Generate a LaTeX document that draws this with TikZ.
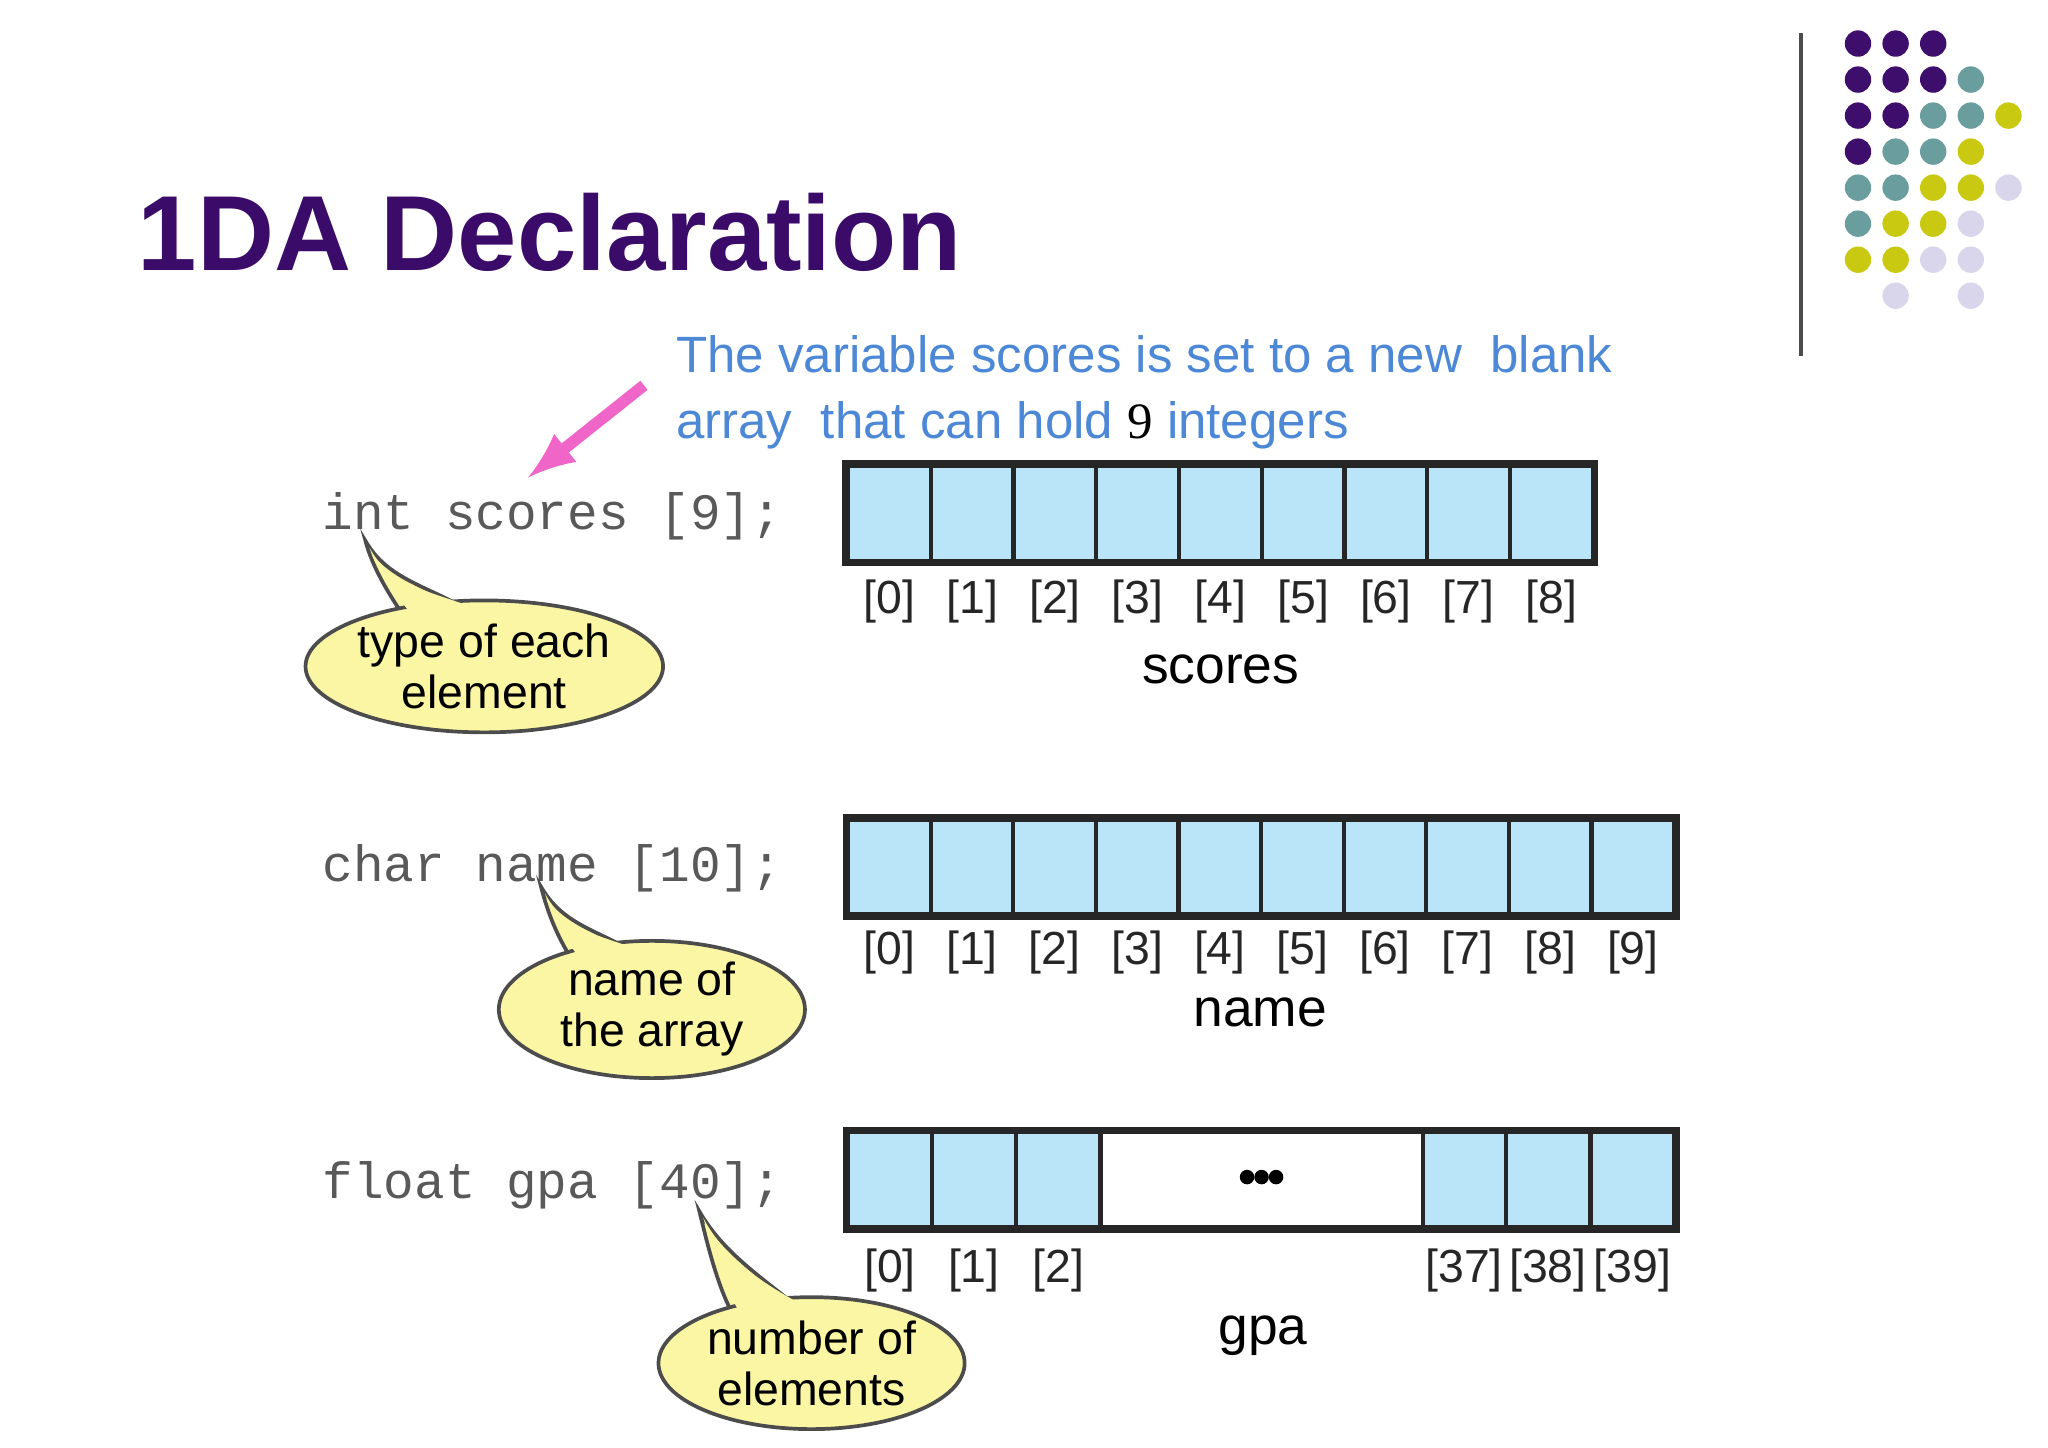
\documentclass[tikz,border=0pt]{standalone}
\usepackage{fontspec}
\setmainfont{Liberation Sans}
\newfontfamily\codefont{Liberation Mono}
\newfontfamily\numfont{Liberation Serif}
\usetikzlibrary{shapes.geometric,positioning}
\definecolor{titlepurple}{HTML}{3A0B68}
\definecolor{noteblue}{HTML}{4C88D6}
\definecolor{cellblue}{HTML}{BAE4F8}
\definecolor{calloutyellow}{HTML}{FBF6A4}
\definecolor{arrowpink}{HTML}{F065C8}
\definecolor{dotpurple}{HTML}{3D0E6C}
\definecolor{dotteal}{HTML}{6A9E9E}
\definecolor{dotyellow}{HTML}{C9C912}
\definecolor{dotlilac}{HTML}{D9D6EC}
\tikzset{cell/.style={draw=black!85, fill=cellblue, line width=0.9pt, inner sep=0,
    minimum height=7.2mm}}
\tikzset{idx/.style={font=\fontsize{10}{12}\selectfont, text=black!85}}
\tikzset{code/.style={font=\codefont\fontsize{11}{13}\selectfont, text=black!65, anchor=west}}
\tikzset{callout/.style={shape=ellipse, draw=black!70, fill=calloutyellow, line width=0.8pt,
    align=center, inner sep=0, font=\fontsize{10}{11}\selectfont}}
\tikzset{dot/.style={circle, inner sep=0, minimum size=2mm}}
\begin{document}
\begin{tikzpicture}[x=0.01cm, y=-0.01cm]
  \useasboundingbox (0,0) rectangle (1552,1097);

  %%%% Title
  \node[anchor=base west, text=titlepurple, font=\bfseries\fontsize{23}{28}\selectfont] (title) at (92,205) {1DA Declaration};

  %%%% Decoration top right
  \draw[black!70, line width=0.8pt] (1365,25) -- (1365,270);
  \foreach \c/\x/\y in {dotpurple/0/0,dotpurple/1/0,dotpurple/2/0,
      dotpurple/0/1,dotpurple/1/1,dotpurple/2/1,dotteal/3/1,
      dotpurple/0/2,dotpurple/1/2,dotteal/2/2,dotteal/3/2,dotyellow/4/2,
      dotpurple/0/3,dotteal/1/3,dotteal/2/3,dotyellow/3/3,
      dotteal/0/4,dotteal/1/4,dotyellow/2/4,dotyellow/3/4,dotlilac/4/4,
      dotteal/0/5,dotyellow/1/5,dotyellow/2/5,dotlilac/3/5,
      dotyellow/0/6,dotyellow/1/6,dotlilac/2/6,dotlilac/3/6,
      dotlilac/1/7,dotlilac/3/7}
    \node[dot, fill=\c] (dot-\x-\y) at (1408+28.5*\x, 33+27.3*\y) {};

  %%%% Note
  \node[anchor=north west, align=left, text=noteblue, font=\fontsize{11}{14.2}\selectfont] (note) at (500,242)
    {The variable scores is set to a new\ \ blank\\array\ \ that can hold {\numfont\color{black}9} integers};
  \coordinate (tip) at (400,362);
  \draw[->, >=latex, arrowpink, line width=2.5pt] (488,292) -- (tip);

  %%%% Declarations
  \node[code] (decl1) at (232,391) {int scores [9];};
  \node[code] (decl2) at (232,658) {char name [10];};
  \node[code] (decl3) at (232,898) {float gpa [40];};

  %%%% scores
  \foreach \i in {0,...,8} {
    \node[cell, minimum width=6.27mm] (s\i) at (674+62.7*\i,389) {};
    \node[idx] (si\i) at (674+62.7*\i,456) {[\i]};
  }
  \draw[line width=1.5pt, black!85] (s0.north west) rectangle (s8.south east);
  \node[font=\fontsize{11.5}{14}\selectfont] (sname) at (925,507) {scores};

  %%%% name
  \foreach \i in {0,...,9} {
    \node[cell, minimum width=6.26mm] (n\i) at (674+62.6*\i,657) {};
    \node[idx] (ni\i) at (674+62.6*\i,722) {[\i]};
  }
  \draw[line width=1.5pt, black!85] (n0.north west) rectangle (n9.south east);
  \node[font=\fontsize{11.5}{14}\selectfont] (nname) at (955,767) {name};

  %%%% gpa
  \foreach \i/\x in {0/674.5,1/738,2/802,37/1109.5,38/1173,39/1237} {
    \node[cell, minimum width=6.35mm] (g\i) at (\x,894) {};
    \node[idx] (gi\i) at (\x,963) {[\i]};
  }
  \node[cell, fill=white, minimum width=24.4mm] (gdots) at (956,894) {};
  \foreach \k in {-1,0,1} \fill (gdots.center) ++(\k*11,-2) circle (5.5);
  \draw[line width=1.5pt, black!85] (g0.north west) rectangle (g39.south east);
  \node[font=\fontsize{11.5}{14}\selectfont] (gname) at (957,1012) {gpa};

  %%%% Callouts
  \foreach \n/\cx/\cy/\tx/\ty/\w/\h/\txt in {
      c1/367/505/277/410/254/100/{type of each\\element},
      c2/494/765/410/672/232/104/{name of\\the array},
      c3/615/1033/530/918/232/100/{number of\\elements}} {
    \coordinate (\n-tip) at (\tx,\ty);
    \filldraw[draw=black!70, fill=calloutyellow, line width=0.8pt]
      (\cx-55,\cy-30) .. controls (\cx-70,\cy-50) and (\tx+5,\ty+20) .. (\n-tip)
      .. controls (\tx+20,\ty+35) and (\cx-30,\cy-60) .. (\cx+5,\cy-30) -- cycle;
    \node[callout, minimum width=\w*0.01cm, minimum height=\h*0.01cm] (\n) at (\cx,\cy) {\txt};
    \fill[calloutyellow]
      (\cx-52,\cy-36) .. controls (\cx-66,\cy-52) and (\tx+8,\ty+22) .. (\tx+3,\ty+5)
      .. controls (\tx+20,\ty+38) and (\cx-30,\cy-56) .. (\cx+1,\cy-40) -- cycle;
  }
\end{tikzpicture}
\end{document}
